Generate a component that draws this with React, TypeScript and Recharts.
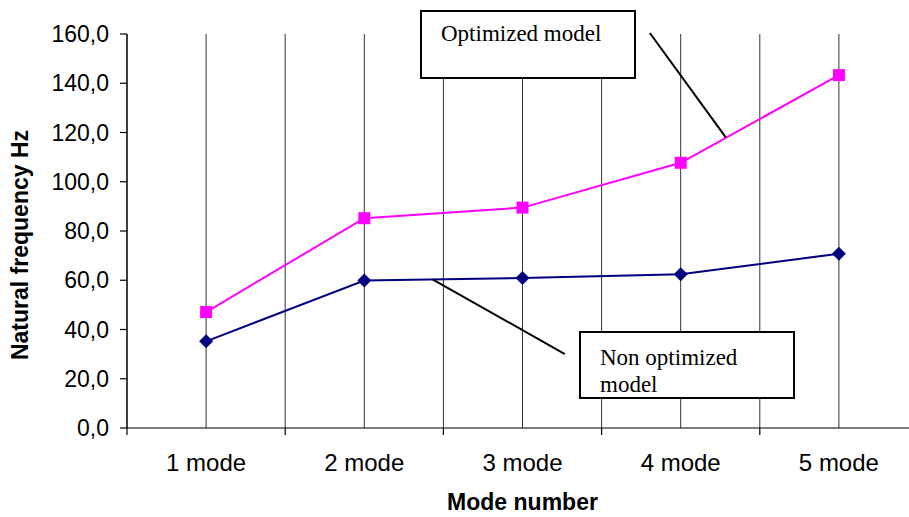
import { CartesianGrid, LineChart, Line, ReferenceLine, XAxis, YAxis } from "recharts";

const modes = ["1 mode", "2 mode", "3 mode", "4 mode", "5 mode"];
const optimized = [47.1, 85.2, 89.5, 107.7, 143.3];
const nonOptimized = [35.2, 59.9, 60.9, 62.4, 70.8];
const yTicks = [0, 20, 40, 60, 80, 100, 120, 140, 160];
// category centres plus the boundaries between them
const xTicks = [0.5, 1, 1.5, 2, 2.5, 3, 3.5, 4, 4.5, 5, 5.5];

const rows = modes.map((name, i) => ({
  x: i + 1,
  name,
  optimized: optimized[i],
  nonOptimized: nonOptimized[i]
}));

const SANS = "'Liberation Sans', Arial, sans-serif";
const SERIF = "'Liberation Serif', 'Times New Roman', serif";

function ModeTick(props: any) {
  const { x, y, payload } = props;
  const v = Number(payload.value);
  if (Number.isInteger(v)) {
    return (
      <text x={x} y={y + 43} textAnchor="middle" fontFamily={SANS} fontSize={24} fill="#000">
        {modes[v - 1]}
      </text>
    );
  }
  return <line x1={x} x2={x} y1={y} y2={y + 7} stroke="#000" strokeWidth={1.2} />;
}

function YLabel(props: any) {
  const { viewBox } = props;
  const cx = viewBox.x + 20;
  const cy = viewBox.y + viewBox.height / 2 + 14;
  return (
    <text
      x={cx}
      y={cy}
      transform={`rotate(-90 ${cx} ${cy})`}
      textAnchor="middle"
      dominantBaseline="central"
      fontFamily={SANS}
      fontWeight="bold"
      fontSize={23}
      fill="#000"
    >
      Natural frequency Hz
    </text>
  );
}

function XLabel(props: any) {
  const { viewBox } = props;
  const cx = viewBox.x + viewBox.width / 2;
  return (
    <text x={cx} y={510} textAnchor="middle" fontFamily={SANS} fontWeight="bold" fontSize={23} fill="#000">
      Mode number
    </text>
  );
}

const square = (p: any) => (
  <rect key={`sq-${p.index}`} x={p.cx - 6} y={p.cy - 6} width={12} height={12} fill="#FF00FF" />
);

const diamond = (p: any) => (
  <polygon
    key={`dm-${p.index}`}
    points={`${p.cx},${p.cy - 7} ${p.cx + 7},${p.cy} ${p.cx},${p.cy + 7} ${p.cx - 7},${p.cy}`}
    fill="#000080"
  />
);

const boxStyle: React.CSSProperties = {
  position: "absolute",
  background: "#fff",
  border: "2px solid #000",
  boxSizing: "border-box",
  fontFamily: SERIF,
  fontSize: 23,
  lineHeight: "27px",
  color: "#000"
};

export default function App() {
  return (
    <div style={{ position: "absolute", left: 0, top: 0, width: 909, height: 517, overflow: "hidden", background: "#fff" }}>
      <LineChart width={930} height={517} data={rows} margin={{ top: 34, right: 12, bottom: 0, left: 0 }}>
        <CartesianGrid horizontal={false} stroke="#333" strokeWidth={1} />
        <XAxis
          dataKey="x"
          type="number"
          domain={[0.5, 5.5]}
          ticks={xTicks}
          interval={0}
          tick={<ModeTick />}
          tickLine={false}
          tickSize={0}
          tickMargin={0}
          height={89}
          axisLine={{ stroke: "#000", strokeWidth: 1.2 }}
          label={<XLabel />}
        />
        <YAxis
          type="number"
          domain={[0, 160]}
          ticks={yTicks}
          interval={0}
          width={127}
          tickSize={7}
          tickMargin={11}
          tickFormatter={(v: number) => v.toFixed(1).replace(".", ",")}
          tick={{ fill: "#000", fontSize: 23, fontFamily: SANS }}
          tickLine={{ stroke: "#000", strokeWidth: 1.2 }}
          axisLine={{ stroke: "#000", strokeWidth: 1.2 }}
          label={<YLabel />}
        />
        <Line
          type="linear"
          dataKey="optimized"
          stroke="#FF00FF"
          strokeWidth={2}
          dot={square}
          activeDot={false}
          isAnimationActive={false}
        />
        <Line
          type="linear"
          dataKey="nonOptimized"
          stroke="#000080"
          strokeWidth={2}
          dot={diamond}
          activeDot={false}
          isAnimationActive={false}
        />
        <ReferenceLine
          segment={[{ x: 3.805, y: 160.4 }, { x: 4.285, y: 118 }]}
          stroke="#000"
          strokeWidth={2}
          ifOverflow="visible"
        />
        <ReferenceLine
          segment={[{ x: 2.434, y: 60.3 }, { x: 3.268, y: 30 }]}
          stroke="#000"
          strokeWidth={2}
          ifOverflow="visible"
        />
      </LineChart>
      <div style={{ ...boxStyle, left: 420, top: 10, width: 216, height: 69, padding: "8px 0 0 19px" }}>
        Optimized model
      </div>
      <div style={{ ...boxStyle, left: 579, top: 331, width: 216, height: 68, padding: "11px 0 0 19px" }}>
        Non optimized
        <br />
        model
      </div>
    </div>
  );
}
